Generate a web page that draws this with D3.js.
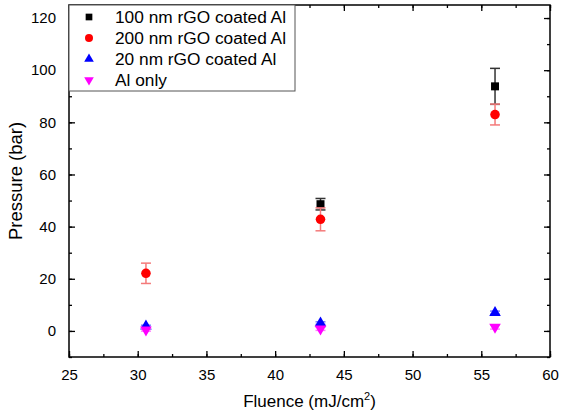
<!DOCTYPE html>
<html>
<head>
<meta charset="utf-8">
<script src="https://cdn.jsdelivr.net/npm/d3@7"></script>
<style>
  body { margin: 0; background: #fff; }
  svg { font-family: "Liberation Sans", Arial, sans-serif; }
</style>
</head>
<body>
<svg width="565" height="414"></svg>
<script>
// data
const fluence = [30.6, 43.3, 56.0];
const seriesNames = ["100 nm rGO coated Al", "200 nm rGO coated Al", "20 nm rGO coated Al", "Al only"];
const p100 = [null, 48.6, 93.8];
const e100 = [null, 2.2, 6.9];
const p200 = [22.1, 42.8, 83.0];
const e200 = [3.9, 4.4, 4.0];
const p20 = [1.8, 3.0, 7.0];
const e20 = [0.4, 0.5, 0.6];
const pAl = [0.4, 0.8, 1.5];
const eAl = [0.5, 0.6, 0.8];
const xTicks = [25, 30, 35, 40, 45, 50, 55, 60];
const yTicks = [0, 20, 40, 60, 80, 100, 120];

const svg = d3.select("svg");
const mL = 69, mR = 550, mT = 5, mB = 357;

const x = d3.scaleLinear().domain([25, 60]).range([mL, mR]);
const y = d3.scaleLinear().domain([-10, 125]).range([mB, mT]);

const series = [
  { name: seriesNames[0], vals: p100, errs: e100, color: "#000000", bar: "#333333", sym: d3.symbolSquare, size: 64, rot: 0 },
  { name: seriesNames[1], vals: p200, errs: e200, color: "#ff0000", bar: "#f47a7a", sym: d3.symbolCircle, size: 72, rot: 0 },
  { name: seriesNames[2], vals: p20, errs: e20, color: "#0000ff", bar: "#8080ff", sym: d3.symbolTriangle, size: 58, rot: 0 },
  { name: seriesNames[3], vals: pAl, errs: eAl, color: "#ff00ff", bar: "#ff80ff", sym: d3.symbolTriangle, size: 58, rot: 180 }
];

// axes, ticks pointing inward, mirrored on top/right
const xMinor = d3.range(25, 60.01, 2.5);
const yMinor = d3.range(-10, 125.01, 10);

svg.append("g").attr("transform", `translate(0,${mB})`)
  .call(d3.axisBottom(x).tickValues(xMinor).tickSizeInner(-3).tickSizeOuter(0).tickFormat(""))
  .call(g => g.select(".domain").remove());
svg.append("g").attr("transform", `translate(0,${mB})`)
  .call(d3.axisBottom(x).tickValues(xTicks).tickSizeInner(-6).tickSizeOuter(0).tickPadding(12))
  .call(g => g.select(".domain").remove())
  .call(g => g.selectAll("text").attr("font-size", 15).attr("font-family", "Liberation Sans, Arial"));
svg.append("g").attr("transform", `translate(0,${mT})`)
  .call(d3.axisTop(x).tickValues(xMinor).tickSizeInner(-3).tickSizeOuter(0).tickFormat(""))
  .call(g => g.select(".domain").remove());
svg.append("g").attr("transform", `translate(0,${mT})`)
  .call(d3.axisTop(x).tickValues(xTicks).tickSizeInner(-6).tickSizeOuter(0).tickFormat(""))
  .call(g => g.select(".domain").remove());

svg.append("g").attr("transform", `translate(${mL},0)`)
  .call(d3.axisLeft(y).tickValues(yMinor).tickSizeInner(-3).tickSizeOuter(0).tickFormat(""))
  .call(g => g.select(".domain").remove());
svg.append("g").attr("transform", `translate(${mL},0)`)
  .call(d3.axisLeft(y).tickValues(yTicks).tickSizeInner(-6).tickSizeOuter(0).tickPadding(13))
  .call(g => g.select(".domain").remove())
  .call(g => g.selectAll("text").attr("font-size", 15).attr("font-family", "Liberation Sans, Arial"));
svg.append("g").attr("transform", `translate(${mR},0)`)
  .call(d3.axisRight(y).tickValues(yMinor).tickSizeInner(-3).tickSizeOuter(0).tickFormat(""))
  .call(g => g.select(".domain").remove());
svg.append("g").attr("transform", `translate(${mR},0)`)
  .call(d3.axisRight(y).tickValues(yTicks).tickSizeInner(-6).tickSizeOuter(0).tickFormat(""))
  .call(g => g.select(".domain").remove());

svg.selectAll(".tick line").attr("stroke", "#000").attr("stroke-width", 1.3);

svg.append("rect")
  .attr("x", mL).attr("y", mT)
  .attr("width", mR - mL).attr("height", mB - mT)
  .attr("fill", "none").attr("stroke", "#000").attr("stroke-width", 1.5);

// error bars and markers
series.forEach(s => {
  const pts = fluence.map((f, i) => ({ f, v: s.vals[i], e: s.errs[i] })).filter(d => d.v != null);
  const g = svg.append("g");
  g.selectAll("line.eb").data(pts).enter().append("line")
    .attr("x1", d => x(d.f)).attr("x2", d => x(d.f))
    .attr("y1", d => y(d.v - d.e)).attr("y2", d => y(d.v + d.e))
    .attr("stroke", s.bar).attr("stroke-width", 1.5);
  [-1, 1].forEach(sign => {
    g.selectAll(null).data(pts).enter().append("line")
      .attr("x1", d => x(d.f) - 5).attr("x2", d => x(d.f) + 5)
      .attr("y1", d => y(d.v + sign * d.e)).attr("y2", d => y(d.v + sign * d.e))
      .attr("stroke", s.bar).attr("stroke-width", 1.5);
  });
  g.selectAll("path").data(pts).enter().append("path")
    .attr("d", d3.symbol().type(s.sym).size(s.size))
    .attr("transform", d => `translate(${x(d.f)},${y(d.v)}) rotate(${s.rot})`)
    .attr("fill", s.color);
});

// legend
const legend = svg.append("g");
legend.append("rect")
  .attr("x", mL).attr("y", mT).attr("width", 226).attr("height", 86)
  .attr("fill", "#fff").attr("stroke", "#555").attr("stroke-width", 1);
series.forEach((s, i) => {
  const ly = 17 + i * 21;
  legend.append("path")
    .attr("d", d3.symbol().type(s.sym).size(s.size * 0.7))
    .attr("transform", `translate(89,${ly}) rotate(${s.rot})`)
    .attr("fill", s.color);
  legend.append("text")
    .attr("x", 115).attr("y", ly).attr("dy", "0.36em")
    .attr("font-size", 17.3).text(s.name);
});

// axis titles
svg.append("text")
  .attr("transform", `translate(22,${(mT + mB) / 2}) rotate(-90)`)
  .attr("text-anchor", "middle").attr("font-size", 18.5)
  .text("Pressure (bar)");

const xt = svg.append("text")
  .attr("x", (mL + mR) / 2).attr("y", 407)
  .attr("text-anchor", "middle").attr("font-size", 17);
xt.append("tspan").text("Fluence (mJ/cm");
xt.append("tspan").attr("font-size", 11).attr("dy", -7).text("2");
xt.append("tspan").attr("dy", 7).text(")");
</script>
</body>
</html>
